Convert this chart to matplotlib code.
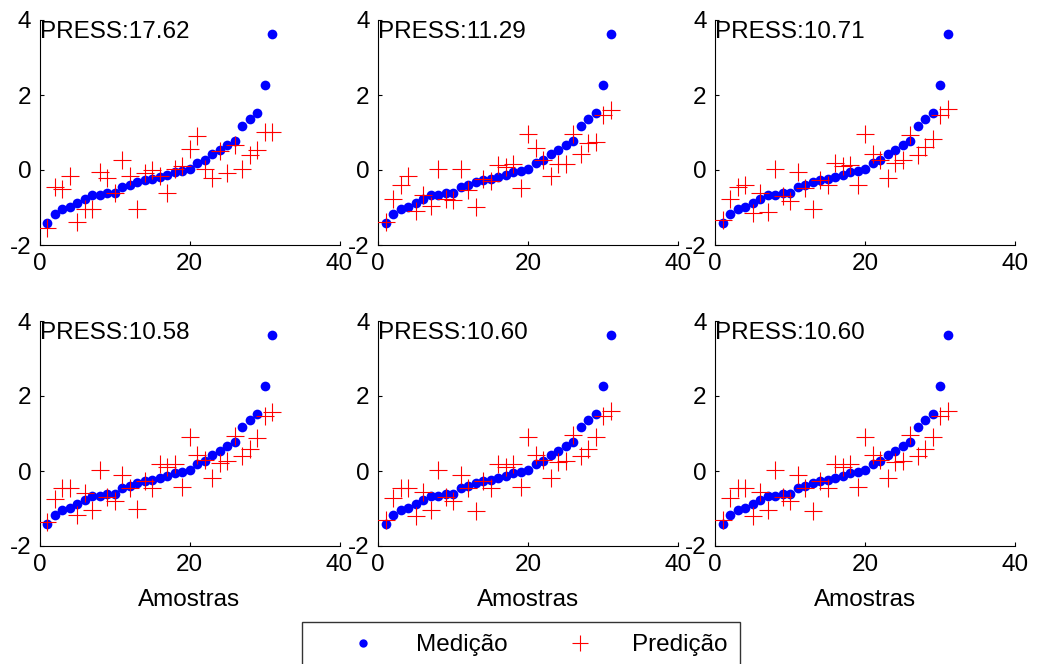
import numpy as np
import matplotlib
matplotlib.use("Agg")
import matplotlib.pyplot as plt
from matplotlib.lines import Line2D

plt.rcParams['font.family'] = ['Liberation Sans', 'DejaVu Sans']
plt.rcParams['axes.unicode_minus'] = False

amostras = np.arange(1, 32)
medicao = [-1.42, -1.18, -1.04, -0.99, -0.87, -0.76, -0.67, -0.67, -0.60, -0.60,
           -0.46, -0.41, -0.32, -0.27, -0.24, -0.18, -0.12, -0.05, -0.02, 0.02,
           0.18, 0.27, 0.43, 0.53, 0.68, 0.77, 1.17, 1.37, 1.53, 2.28, 3.64]

pred1 = [-1.56, -0.45, -0.50, -0.16, -1.40, -1.05, -1.05, -0.04, -0.22, -0.60,
         0.27, -0.16, -1.05, -0.09, 0.00, -0.16, -0.60, 0.04, 0.12, 0.55,
         0.91, 0.04, -0.22, 0.51, -0.07, 0.67, 0.04, 0.40, 0.53, 1.02, 1.02]
pred2 = [-1.40, -0.76, -0.40, -0.16, -1.08, -0.67, -0.96, 0.04, -0.76, -0.80,
         0.02, -0.53, -0.98, -0.25, -0.28, 0.13, 0.09, 0.16, -0.49, 0.96,
         0.58, 0.27, -0.16, 0.16, 0.16, 0.96, 0.43, 0.71, 0.76, 1.47, 1.60]
pred3 = [-1.33, -0.76, -0.44, -0.40, -1.16, -0.60, -1.13, 0.04, -0.69, -0.82,
         -0.04, -0.49, -1.05, -0.27, -0.40, 0.20, 0.11, 0.13, -0.40, 0.96,
         0.44, 0.28, -0.22, 0.20, 0.27, 0.93, 0.40, 0.62, 0.84, 1.47, 1.64]
pred4 = [-1.35, -0.75, -0.44, -0.44, -1.17, -0.58, -1.04, 0.04, -0.68, -0.80,
         -0.11, -0.44, -1.00, -0.27, -0.46, 0.20, 0.12, 0.18, -0.42, 0.92,
         0.43, 0.29, -0.18, 0.22, 0.27, 0.94, 0.41, 0.59, 0.89, 1.47, 1.58]
pred5 = [-1.31, -0.73, -0.44, -0.44, -1.20, -0.55, -1.04, 0.04, -0.68, -0.80,
         -0.11, -0.46, -1.07, -0.26, -0.44, 0.20, 0.12, 0.18, -0.42, 0.92,
         0.43, 0.29, -0.18, 0.25, 0.27, 0.96, 0.41, 0.59, 0.91, 1.47, 1.60]
pred6 = [-1.31, -0.73, -0.44, -0.44, -1.20, -0.55, -1.04, 0.04, -0.68, -0.80,
         -0.11, -0.46, -1.07, -0.26, -0.44, 0.20, 0.12, 0.18, -0.42, 0.92,
         0.43, 0.29, -0.18, 0.25, 0.27, 0.96, 0.41, 0.59, 0.91, 1.47, 1.60]
predicoes = [pred1, pred2, pred3, pred4, pred5, pred6]
press_labels = ["PRESS:17.62", "PRESS:11.29", "PRESS:10.71",
                "PRESS:10.58", "PRESS:10.60", "PRESS:10.60"]
xticks = [0, 20, 40]
yticks = [-2, 0, 2, 4]

W, H = 1038, 664
fig = plt.figure(figsize=(W / 100, H / 100), dpi=100)
fs = 17.5

lefts = [39.5, 378, 715]
tops = [20, 321]
aw, ah = 300, 225

for i in range(6):
    r, c = divmod(i, 3)
    ax = fig.add_axes([lefts[c] / W, 1 - (tops[r] + ah) / H, aw / W, ah / H])
    ax.plot(amostras, medicao, 'o', color='#0000ff', markersize=7,
            markeredgewidth=0, zorder=2)
    ax.plot(amostras, predicoes[i], '+', color='#ff0000', markersize=12.5,
            markeredgewidth=0.8, zorder=3)
    ax.set_xlim(0, 40)
    ax.set_ylim(-2, 4)
    ax.set_xticks(xticks)
    ax.set_yticks(yticks)
    ax.spines['top'].set_visible(False)
    ax.spines['right'].set_visible(False)
    for s in ('left', 'bottom'):
        ax.spines[s].set_linewidth(0.8)
    ax.tick_params(direction='in', length=3, width=0.8, labelsize=fs, pad=6)
    ax.text(0.05, 3.68, press_labels[i], fontsize=fs, ha='left', va='center')
    ax.set_facecolor('none')
    if r == 1:
        ax.set_xlabel("Amostras", fontsize=fs, labelpad=9)

handles = [Line2D([], [], linestyle='none', marker='o', color='#0000ff',
                  markersize=6, markeredgewidth=0),
           Line2D([], [], linestyle='none', marker='+', color='#ff0000',
                  markersize=11, markeredgewidth=0.8)]
leg = fig.legend(handles, ["Medição", "Predição"], loc='upper left',
                 bbox_to_anchor=(302 / W, 1 - 622 / H), ncol=2,
                 fontsize=fs, frameon=True, fancybox=False, borderaxespad=0,
                 handlelength=4.06, handletextpad=0.11, columnspacing=0.98,
                 borderpad=0.5)
leg.get_frame().set_edgecolor('black')
leg.get_frame().set_linewidth(1.0)

fig.savefig("out.png", dpi=100)
